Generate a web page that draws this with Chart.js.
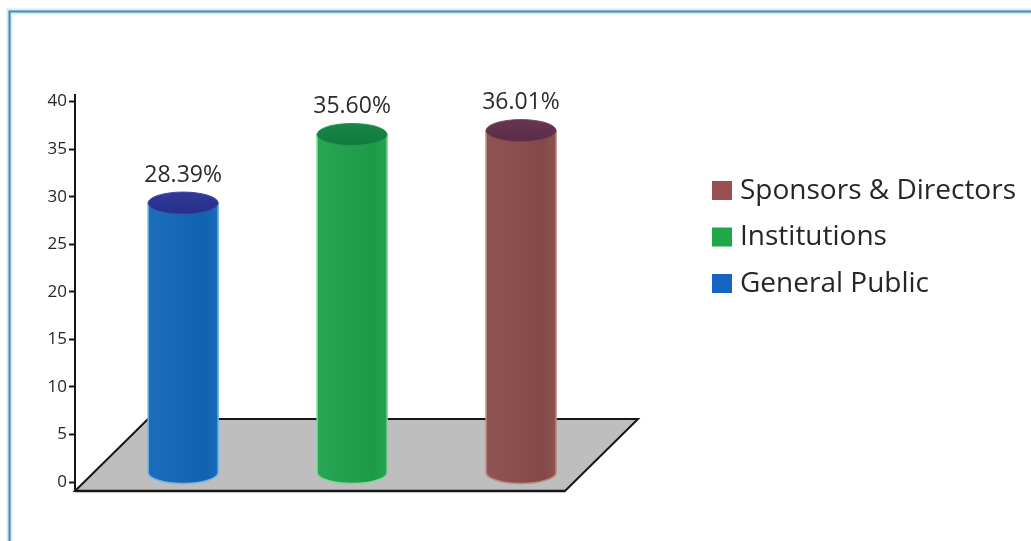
<!DOCTYPE html>
<html>
<head>
<meta charset="utf-8">
<script src="https://cdn.jsdelivr.net/npm/chart.js@4.4.1/dist/chart.umd.min.js"></script>
<style>
  html, body { margin: 0; padding: 0; background: #ffffff; }
  canvas { display: block; }
</style>
</head>
<body>
<canvas id="chart" width="1031" height="541"></canvas>
<script>
// Shareholding by investor group (percent)
const categories = ['General Public', 'Institutions', 'Sponsors & Directors'];
const shares = [28.39, 35.60, 36.01];
const shareLabels = ['28.39%', '35.60%', '36.01%'];

// Cylinder body, cylinder cap and legend swatch colours per group
const bodyColors = ['#1767b7', '#22a04e', '#8a4f4c'];
const rimColors = ['#6fb4e6', '#7fd69b', '#b98a86'];
const capColors = ['#26308c', '#0f7c3d', '#5b2b48'];
const swatchColors = ['#1565c0', '#1fa84a', '#9a4e50'];

const FONT = '"Open Sans", "Noto Sans", sans-serif';

function shade(hex, amt) {
  const n = parseInt(hex.slice(1), 16);
  let r = (n >> 16) & 255, g = (n >> 8) & 255, b = n & 255;
  r = Math.max(0, Math.min(255, Math.round(r + amt)));
  g = Math.max(0, Math.min(255, Math.round(g + amt)));
  b = Math.max(0, Math.min(255, Math.round(b + amt)));
  return 'rgb(' + r + ',' + g + ',' + b + ')';
}

// Page frame behind everything
const framePlugin = {
  id: 'frame',
  beforeDraw(chart) {
    const ctx = chart.ctx;
    ctx.save();
    ctx.fillStyle = '#ffffff';
    ctx.fillRect(0, 0, chart.width, chart.height);
    ctx.strokeStyle = '#cdeef7';
    ctx.lineWidth = 6;
    ctx.strokeRect(9.5, 11.5, chart.width + 40, chart.height + 40);
    ctx.strokeStyle = '#4a86ad';
    ctx.lineWidth = 2;
    ctx.strokeRect(9.5, 11.5, chart.width + 40, chart.height + 40);
    ctx.restore();
  }
};

// Grey floor plane under the cylinders
const floorPlugin = {
  id: 'floor',
  beforeDatasetsDraw(chart) {
    const ctx = chart.ctx;
    const area = chart.chartArea;
    const y0 = chart.scales.y.getPixelForValue(0);
    const frontY = y0 + 9;
    const depth = 72;
    const fl = area.left, fr = area.right - 75;
    ctx.save();
    ctx.beginPath();
    ctx.moveTo(fl, frontY);
    ctx.lineTo(fr, frontY);
    ctx.lineTo(fr + depth + 1, frontY - depth);
    ctx.lineTo(fl + depth + 1, frontY - depth);
    ctx.closePath();
    ctx.fillStyle = '#bebebe';
    ctx.fill();
    ctx.strokeStyle = '#161616';
    ctx.lineWidth = 2;
    ctx.lineJoin = 'miter';
    ctx.stroke();
    ctx.lineWidth = 2.5;
    ctx.beginPath();
    ctx.moveTo(fl, frontY);
    ctx.lineTo(fr, frontY);
    ctx.stroke();
    // axis line carried down to the floor edge
    ctx.lineWidth = 2;
    ctx.beginPath();
    ctx.moveTo(fl, y0);
    ctx.lineTo(fl, frontY);
    ctx.stroke();
    ctx.restore();
  }
};

// Cylinders built on the bar elements, plus value labels
const cylinderPlugin = {
  id: 'cylinders',
  afterDatasetsDraw(chart) {
    const ctx = chart.ctx;
    const meta = chart.getDatasetMeta(0);
    meta.data.forEach((bar, i) => {
      const cx = bar.x;
      const rx = bar.width / 2;
      const ry = 11;
      const lift = 9;
      const topY = bar.y - lift;
      const botY = bar.base - lift;
      ctx.save();
      // body
      ctx.beginPath();
      ctx.moveTo(cx - rx, topY);
      ctx.lineTo(cx - rx, botY);
      ctx.ellipse(cx, botY, rx, ry, 0, Math.PI, 0, true);
      ctx.lineTo(cx + rx, topY);
      ctx.closePath();
      const g = ctx.createLinearGradient(cx - rx, 0, cx + rx, 0);
      g.addColorStop(0, shade(bodyColors[i], 6));
      g.addColorStop(0.45, bodyColors[i]);
      g.addColorStop(0.8, shade(bodyColors[i], -6));
      g.addColorStop(1, shade(bodyColors[i], 4));
      ctx.fillStyle = g;
      ctx.fill();
      ctx.strokeStyle = rimColors[i];
      ctx.lineWidth = 1.5;
      ctx.stroke();
      // cap
      ctx.beginPath();
      ctx.ellipse(cx, topY, rx, ry, 0, 0, Math.PI * 2);
      const cg = ctx.createLinearGradient(0, topY - ry, 0, topY + ry);
      cg.addColorStop(0, shade(capColors[i], 10));
      cg.addColorStop(1, capColors[i]);
      ctx.fillStyle = cg;
      ctx.fill();
      ctx.strokeStyle = shade(capColors[i], 25);
      ctx.lineWidth = 1;
      ctx.stroke();
      // value label
      ctx.fillStyle = '#2b2b2b';
      ctx.font = '23px ' + FONT;
      ctx.textAlign = 'center';
      ctx.textBaseline = 'middle';
      ctx.fillText(shareLabels[i], cx, topY - 28);
      ctx.restore();
    });
  }
};

// Legend listed top-down from the last group to the first
const legendPlugin = {
  id: 'sideLegend',
  afterDraw(chart) {
    const ctx = chart.ctx;
    const x = chart.chartArea.right + 72;
    const startY = 190;
    const step = 46.5;
    ctx.save();
    ctx.font = '28px ' + FONT;
    ctx.textBaseline = 'middle';
    ctx.textAlign = 'left';
    for (let k = 0; k < categories.length; k++) {
      const i = categories.length - 1 - k;
      const y = startY + k * step;
      ctx.fillStyle = swatchColors[i];
      ctx.fillRect(x, y - 9, 20, 19);
      ctx.fillStyle = '#262626';
      ctx.fillText(categories[i], x + 28, y + 1);
    }
    ctx.restore();
  }
};

new Chart(document.getElementById('chart'), {
  type: 'bar',
  data: {
    datasets: [{
      label: 'Shareholding',
      data: categories.map((c, i) => ({ x: i, y: shares[i] })),
      backgroundColor: 'rgba(0,0,0,0)',
      borderWidth: 0,
      barThickness: 70
    }]
  },
  options: {
    responsive: false,
    animation: false,
    devicePixelRatio: 1,
    layout: { padding: { left: 0, right: 391, top: 95, bottom: 59 } },
    plugins: { legend: { display: false }, tooltip: { enabled: false } },
    scales: {
      x: {
        type: 'linear',
        min: -0.64,
        max: 2.704,
        offset: false,
        display: false
      },
      y: {
        min: 0,
        max: 40.7,
        afterFit(scale) { scale.width = 75; },
        ticks: {
          stepSize: 5,
          includeBounds: false,
          padding: 2,
          color: '#262626',
          font: { family: FONT, size: 17 }
        },
        grid: {
          drawOnChartArea: false,
          drawTicks: true,
          tickLength: 6,
          tickWidth: 2,
          tickColor: '#161616'
        },
        border: { display: true, color: '#161616', width: 2 }
      }
    }
  },
  plugins: [framePlugin, floorPlugin, cylinderPlugin, legendPlugin]
});
</script>
</body>
</html>
